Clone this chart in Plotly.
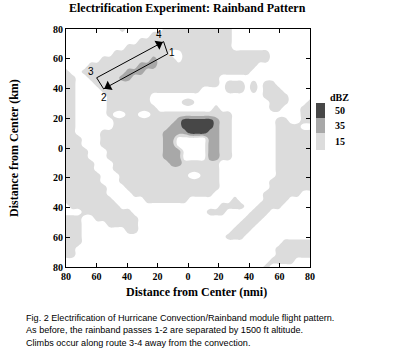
import numpy as np
import plotly.graph_objects as go

# Radar reflectivity class on a 40 x 40 grid.
# '.' = below 15 dBZ, '1' = 15-35, '2' = 35-50, '3' = above 50.
# Rows run from the top of the panel (north) to the bottom (south);
# each row is "west half | east half", 20 cells each.
refl_rows = [
    ".........1......1111|1111111.............",
    "..............111111|1111111.............",
    "............11111111|1111111.............",
    "..........1111111111|1111111.............",
    "........111111111..1|1111111111111.......",
    "......111111112111.1|1111111111111.......",
    "....1111111122211111|11111111111.........",
    "1..11111112221111111|1111111111..........",
    "11..1111122111111111|11111...............",
    "11...111111111111111|11111.111.1.11......",
    "11....11111111111111|11....111.1.111.....",
    "11.....1111111......|............1111....",
    "11.....1111111.....1|1............111...1",
    "11.....11111111.....|....1........11...11",
    "11.....1..11..111111|1111111...........11",
    "11......111111111123|3333211.......11..11",
    "11......111111111223|3333211.......1111..",
    "11....11111111112222|3332211.......111111",
    "111...111111111122..|...2211.......111111",
    "111...111111111122..|...2211.......111111",
    "1111...111111111222.|...2211.......111111",
    "1111...111111111222.|...2211.......111111",
    "11111...111111111221|11111.........111111",
    "11111...111111111111|11111.........111111",
    "111111...11111111111|..111.........111111",
    "111111...11111111111|11111........1111111",
    "1111111...1111111111|11111........1111111",
    "1111111....111111111|1111........111111..",
    "11111111.....1111111|.......1....1111....",
    ".11111111...........|.....1111..1111.....",
    "...11111111.........|...111....111.......",
    "111..1111111........|.........111........",
    "111....11111........|........111.........",
    "111.......11........|.......111..........",
    "111.................|......111...........",
    "111.................|...............11111",
    "11..................|..............111111",
    "11..................|..............111111",
    "....................|.............1111...",
    "....................|............1.......",
]
level_of = {".": 0, "1": 1, "2": 2, "3": 3}
z_rows = []
for i, r in enumerate(refl_rows):
    west, east = r.split("|")
    assert len(west) == 20 and len(east) == 20, (i, len(west), len(east))
    z_rows.append([level_of[c] for c in west + east])
z = z_rows[::-1]                       # south -> north
n = len(refl_rows)
grid_x = np.linspace(-80, 80, n)
grid_y = np.linspace(-80, 80, n)

# flight route corners 1 -> 2 -> 3 -> 4 -> 1 (km from center)
route_x = [-13.3, -55.3, -59.9, -16.0, -13.3]
route_y = [63.3, 39.7, 47.2, 71.5, 63.3]
corner_labels = ["1", "2", "3", "4"]
label_x = [-10.6, -55.4, -63.9, -18.7]
label_y = [63.9, 34.0, 51.1, 76.6]

tick_vals = [-80, -60, -40, -20, 0, 20, 40, 60, 80]
tick_text = ["80", "60", "40", "20", "0", "20", "40", "60", "80"]
legend_levels = ["50", "35", "15"]

LIGHT, MID, DARK = "#dcdcdc", "#a8a8a8", "#474747"
SERIF = "Liberation Serif"
SANS = "Liberation Sans"

fig = go.Figure()
fig.add_trace(go.Contour(
    x=grid_x, y=grid_y, z=z, zmin=0, zmax=3,
    contours=dict(start=0.5, end=2.5, size=1, coloring="fill", showlines=False),
    colorscale=[[0, "white"], [1 / 6, "white"], [1 / 6, LIGHT], [0.5, LIGHT],
                [0.5, MID], [5 / 6, MID], [5 / 6, DARK], [1, DARK]],
    line=dict(width=0, smoothing=1.3),
    showscale=False, hoverinfo="skip",
))

fig.add_trace(go.Scatter(x=route_x, y=route_y, mode="lines",
                         line=dict(color="black", width=1), hoverinfo="skip"))

# arrowheads near corner 2 (leg 1->2) and corner 4 (leg 3->4)
sx, sy = 244 / 160, 238 / 160
ax, ay, ang = [], [], []
for leg in (0, 2):
    x0, y0, x1, y1 = route_x[leg], route_y[leg], route_x[leg + 1], route_y[leg + 1]
    f = 0.93
    ax.append(x0 + f * (x1 - x0))
    ay.append(y0 + f * (y1 - y0))
    ang.append(float(np.degrees(np.arctan2((x1 - x0) * sx, (y1 - y0) * sy))))
fig.add_trace(go.Scatter(x=ax, y=ay, mode="markers",
                         marker=dict(symbol="triangle-up", size=9, color="black",
                                     angle=ang, line=dict(width=0)),
                         hoverinfo="skip"))

for t, lx, ly in zip(corner_labels, label_x, label_y):
    fig.add_annotation(x=lx, y=ly, text=t, showarrow=False,
                       font=dict(family=SANS, size=10, color="black"))

axis_common = dict(range=[-80, 80], tickvals=tick_vals, ticktext=tick_text,
                   ticks="inside", ticklen=4, tickwidth=1, tickcolor="black",
                   mirror="allticks", showline=True, linecolor="black", linewidth=1,
                   showgrid=False, zeroline=False,
                   tickfont=dict(family=SERIF, size=10, color="black", weight="bold"))
fig.update_xaxes(**axis_common)
fig.update_yaxes(**axis_common)


def px_to_paper(px, py):
    return (px - 66) / 244, (267 - py) / 238


annos = [
    ("Electrification Experiment: Rainband Pattern", 187, 8, 12, SERIF, "bold", 0),
    ("Distance from Center (nmi)", 196, 292, 12, SERIF, "bold", 0),
    ("Distance from Center (km)", 14, 148, 12, SERIF, "bold", -90),
    ("dBZ", 339, 97, 10, SERIF, "bold", 0),
]
for text, px, py, size, fam, wt, ta in annos:
    xp, yp = px_to_paper(px, py)
    fig.add_annotation(xref="paper", yref="paper", x=xp, y=yp, text=text, showarrow=False,
                       xanchor="center", yanchor="middle", textangle=ta,
                       font=dict(family=fam, size=size, color="black", weight=wt))

caption = [
    "Fig. 2 Electrification of Hurricane Convection/Rainband module flight pattern.",
    "As before, the rainband passes 1-2 are separated by 1500 ft altitude.",
    "Climbs occur along route 3-4 away from the convection.",
]
for i, line in enumerate(caption):
    xp, yp = px_to_paper(24, 318 + 12.4 * i)
    fig.add_annotation(xref="paper", yref="paper", x=xp, y=yp, text=line, showarrow=False,
                       xanchor="left", yanchor="middle",
                       font=dict(family=SANS, size=9.1, color="black"))

# dBZ key
box_tops = [103, 118, 133]
box_bots = [118, 133, 150]
for lab, col, top, bot in zip(legend_levels, [DARK, MID, LIGHT], box_tops, box_bots):
    x0, y1 = px_to_paper(316, top)
    x1, y0 = px_to_paper(325, bot)
    fig.add_shape(type="rect", xref="paper", yref="paper", x0=x0, x1=x1, y0=y0, y1=y1,
                  fillcolor=col, line=dict(width=0))
    xp, yp = px_to_paper(340, (top + bot) / 2)
    fig.add_annotation(xref="paper", yref="paper", x=xp, y=yp, text=lab, showarrow=False,
                       xanchor="center", yanchor="middle",
                       font=dict(family=SERIF, size=10, color="black", weight="bold"))

fig.update_layout(width=395, height=352, autosize=False,
                  margin=dict(l=66, r=85, t=29, b=85),
                  paper_bgcolor="white", plot_bgcolor="white",
                  showlegend=False,
                  font=dict(family=SERIF, color="black"))

fig.write_html("out.html")
